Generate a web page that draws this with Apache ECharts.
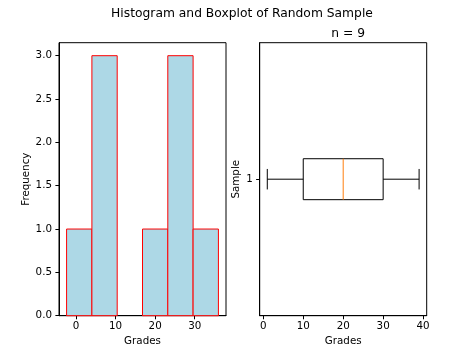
<!DOCTYPE html>
<html>
<head>
<meta charset="utf-8">
<script src="https://cdn.jsdelivr.net/npm/echarts@6/dist/echarts.min.js"></script>
<style>
html,body{margin:0;padding:0;background:#fff;}
#chart{width:474px;height:355px;}
</style>
</head>
<body>
<div id="chart"></div>
<script>
// Histogram data
const binEdges = [-2.4, 4.0, 10.4, 16.8, 23.2, 29.6, 36.0];
const binCounts = [1, 3, 0, 1, 3, 1];
const histXTicks = [0, 10, 20, 30];
const histYTicks = [0, 0.5, 1.0, 1.5, 2.0, 2.5, 3.0];
// Boxplot data: [min, Q1, median, Q3, max]
const boxCategories = ['1'];
const boxStats = [[1, 10, 20, 30, 39]];
const boxXTicks = [0, 10, 20, 30, 40];
const sampleSize = 9;

const FONT = 'DejaVu Sans';
const tickFont = {fontFamily: FONT, fontSize: 10.3, color: '#000'};
const nameFont = {fontFamily: FONT, fontSize: 10.3, color: '#000'};

const histData = binCounts.map((c, i) => [binEdges[i], binEdges[i + 1], c]);

const chart = echarts.init(document.getElementById('chart'), null, {renderer: 'canvas'});
chart.setOption({
  backgroundColor: '#fff',
  animation: false,
  title: [
    {text: 'Histogram and Boxplot of Random Sample', left: 237, top: 3, textAlign: 'center',
     textStyle: {fontFamily: FONT, fontSize: 12.3, fontWeight: 'normal', color: '#000'}},
    {text: 'n = ' + sampleSize, left: 343.2, top: 22.5, textAlign: 'center',
     textStyle: {fontFamily: FONT, fontSize: 12.3, fontWeight: 'normal', color: '#000'}}
  ],
  grid: [
    {left: 59, right: 248, top: 42.7, bottom: 39.3, show: true, borderColor: '#000', borderWidth: 1, backgroundColor: 'transparent'},
    {left: 259.7, right: 47.3, top: 42.7, bottom: 39.3, show: true, borderColor: '#000', borderWidth: 1, backgroundColor: 'transparent'}
  ],
  xAxis: [
    {gridIndex: 0, type: 'value', min: -4.32, max: 37.92,
     name: 'Grades', nameLocation: 'middle', nameGap: 20.5, nameTextStyle: nameFont,
     axisLine: {show: true, onZero: false, lineStyle: {color: '#000'}},
     axisTick: {show: true, length: 3.6, customValues: histXTicks, lineStyle: {color: '#000'}},
     axisLabel: Object.assign({customValues: histXTicks, margin: 6}, tickFont),
     splitLine: {show: false}},
    {gridIndex: 1, type: 'value', min: -0.9, max: 40.9,
     name: 'Grades', nameLocation: 'middle', nameGap: 20.5, nameTextStyle: nameFont,
     axisLine: {show: true, onZero: false, lineStyle: {color: '#000'}},
     axisTick: {show: true, length: 3.6, customValues: boxXTicks, lineStyle: {color: '#000'}},
     axisLabel: Object.assign({customValues: boxXTicks, margin: 6}, tickFont),
     splitLine: {show: false}}
  ],
  yAxis: [
    {gridIndex: 0, type: 'value', min: 0, max: 3.15,
     name: 'Frequency', nameLocation: 'middle', nameGap: 26, nameRotate: 90, nameTextStyle: nameFont,
     axisLine: {show: true, onZero: false, lineStyle: {color: '#000'}},
     axisTick: {show: true, length: 3.6, customValues: histYTicks, lineStyle: {color: '#000'}},
     axisLabel: Object.assign({customValues: histYTicks, margin: 7, formatter: v => Number(v).toFixed(1)}, tickFont),
     splitLine: {show: false}},
    {gridIndex: 1, type: 'category', data: boxCategories, boundaryGap: true,
     name: 'Sample', nameLocation: 'middle', nameGap: 18, nameRotate: 90, nameTextStyle: nameFont,
     axisLine: {show: true, onZero: false, lineStyle: {color: '#000'}},
     axisTick: {show: true, length: 3.6, alignWithLabel: true, lineStyle: {color: '#000'}},
     axisLabel: Object.assign({margin: 7}, tickFont),
     splitLine: {show: false}}
  ],
  series: [
    {
      type: 'custom', xAxisIndex: 0, yAxisIndex: 0,
      data: histData,
      encode: {x: [0, 1], y: 2},
      renderItem: function (params, api) {
        const c = api.value(2);
        if (!c) return null;
        const p0 = api.coord([api.value(0), 0]);
        const p1 = api.coord([api.value(1), c]);
        return {
          type: 'rect',
          shape: {x: p0[0], y: p1[1], width: p1[0] - p0[0], height: p0[1] - p1[1]},
          style: {fill: '#add8e6', stroke: '#ff0000', lineWidth: 1}
        };
      }
    },
    {
      type: 'custom', xAxisIndex: 1, yAxisIndex: 1,
      data: boxStats.map((s, i) => [i].concat(s)),
      encode: {y: 0, x: [1, 2, 3, 4, 5]},
      renderItem: function (params, api) {
        const cat = api.value(0);
        const mn = api.value(1), q1 = api.value(2), md = api.value(3), q3 = api.value(4), mx = api.value(5);
        const band = api.size([0, 1])[1];
        const c = api.coord([q1, cat]);
        const yc = c[1];
        const hb = band * 0.075;
        const hc = band * 0.0375;
        const xmn = api.coord([mn, cat])[0];
        const xq1 = c[0];
        const xmd = api.coord([md, cat])[0];
        const xq3 = api.coord([q3, cat])[0];
        const xmx = api.coord([mx, cat])[0];
        const black = {stroke: '#000', lineWidth: 1, fill: null};
        return {
          type: 'group',
          children: [
            {type: 'line', shape: {x1: xmn, y1: yc, x2: xq1, y2: yc}, style: black},
            {type: 'line', shape: {x1: xq3, y1: yc, x2: xmx, y2: yc}, style: black},
            {type: 'line', shape: {x1: xmn, y1: yc - hc, x2: xmn, y2: yc + hc}, style: black},
            {type: 'line', shape: {x1: xmx, y1: yc - hc, x2: xmx, y2: yc + hc}, style: black},
            {type: 'rect', shape: {x: xq1, y: yc - hb, width: xq3 - xq1, height: 2 * hb}, style: {stroke: '#000', lineWidth: 1, fill: 'none'}},
            {type: 'line', shape: {x1: xmd, y1: yc - hb, x2: xmd, y2: yc + hb}, style: {stroke: '#ff7f0e', lineWidth: 1}}
          ]
        };
      }
    }
  ]
});
</script>
</body>
</html>
